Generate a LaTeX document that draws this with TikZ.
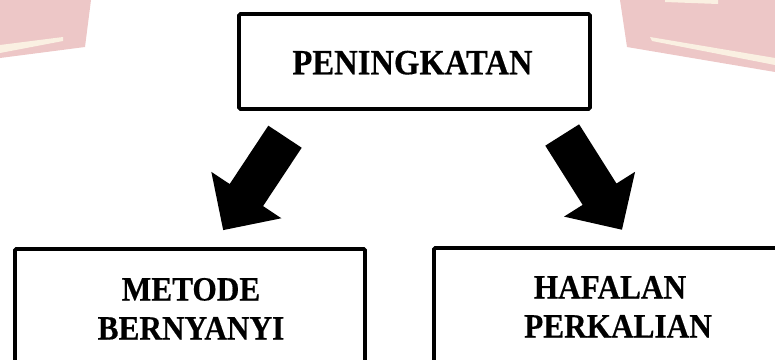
\documentclass[tikz,border=0pt]{standalone}
\usepackage{fontspec}
\newfontfamily\tnr[FakeStretch=0.92, BoldFeatures={FakeBold=0.4}]{Liberation Serif}
\definecolor{wmpink}{RGB}{237,199,199}
\definecolor{wmlight}{RGB}{250,240,226}
\begin{document}
\begin{tikzpicture}[x=1pt,y=-1pt,
  box/.style={draw=black, line width=3.8pt, rounded corners=1.5pt, inner sep=0pt},
  lbl/.style={font=\tnr\bfseries\fontsize{34}{40}\selectfont, inner sep=0pt, anchor=base},
  toplbl/.style={lbl, font=\tnr\bfseries\fontsize{35.5}{40}\selectfont},
  blockarrow/.style={fill=black}]
\useasboundingbox (0,0) rectangle (775,359);
\clip (0,0) rectangle (775,359);
% faint watermark
\fill[wmpink] (0,0) -- (91,0) -- (85,47) -- (0,58) -- cycle;
\fill[wmlight] (0,45) -- (63,37) -- (63,41) -- (0,53) -- cycle;
\fill[wmpink] (620,0) -- (775,0) -- (775,72) -- (627,47) -- cycle;
\fill[wmlight] (650,37) -- (775,58) -- (775,65) -- (652,41) -- cycle;
\fill[wmlight] (665,0) -- (718,0) -- (718,4) -- (665,2) -- cycle;
% boxes
\node[box, minimum width=351pt, minimum height=95pt] (top) at (414.5,61.5) {};
\node[box, minimum width=350pt, minimum height=200pt, anchor=north] (lbox) at (190,247) {};
\node[box, minimum width=361pt, minimum height=200pt, anchor=north] (rbox) at (614.5,246) {};
% texts
\node[toplbl] (ttext) at (412.5,74.3) {PENINGKATAN};
\node[lbl] (l1) at (191,300.5) {METODE};
\node[lbl] (l2) at (191,339.5) {BERNYANYI};
\node[lbl] (r1) at (610,298.5) {HAFALAN};
\node[lbl] (r2) at (618,337.5) {PERKALIAN};
% block arrows
\begin{scope}[shift={(285,136.7)}, rotate=236.5]
  \fill[blockarrow] (0,-20) -- (70,-20) -- (70,-42) -- (112,0) -- (70,42) -- (70,20) -- (0,20) -- cycle;
\end{scope}
\begin{scope}[shift={(562.2,135)}, rotate=-57.75]
  \fill[blockarrow] (0,-20) -- (70,-20) -- (70,-42) -- (112,0) -- (70,42) -- (70,20) -- (0,20) -- cycle;
\end{scope}
\end{tikzpicture}
\end{document}
